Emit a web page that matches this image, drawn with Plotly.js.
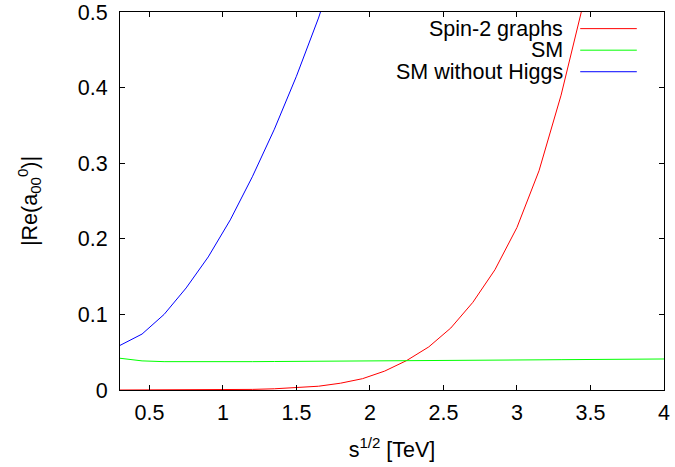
<!DOCTYPE html>
<html>
<head>
<meta charset="utf-8">
<script src="https://cdn.plot.ly/plotly-3.0.1.min.js"></script>
<style>html,body{margin:0;padding:0;background:#fff;}#chart{width:675px;height:467px;}</style>
</head>
<body>
<div id="chart"></div>
<script>
const seriesNames = ["Spin-2 graphs", "SM", "SM without Higgs"];
const seriesColors = ["#ff0000", "#00ff00", "#0000ff"];
const sqrtS = [0.3,0.45,0.6,0.75,0.9,1.05,1.2,1.35,1.5,1.65,1.8,1.95,2.1,2.25,2.4,2.55,2.7,2.85,3.0,3.15,3.3,3.45,3.6,3.75,3.9,4.05];
const spin2 = [0,0,0,0,0.0001,0.0003,0.0008,0.0016,0.003,0.005,0.009,0.015,0.025,0.039,0.057,0.082,0.116,0.159,0.215,0.29,0.39,0.51,0.66,0.85,1.08,1.36];
const sm = [0.042,0.0385,0.0375,0.0373,0.0373,0.0374,0.0375,0.0377,0.0378,0.0380,0.0381,0.0383,0.0385,0.0387,0.0389,0.0391,0.0393,0.0395,0.0397,0.0399,0.0401,0.0403,0.0405,0.0407,0.0409,0.0411];
const smNoHiggsX = [0.3,0.45,0.6,0.75,0.9,1.05,1.2,1.35,1.5,1.65,1.8];
const smNoHiggs = [0.059,0.074,0.100,0.135,0.176,0.225,0.282,0.345,0.415,0.492,0.58];
const xTicks = [0.5,1,1.5,2,2.5,3,3.5,4];
const xTickText = ["0.5","1","1.5","2","2.5","3","3.5","4"];
const yTicks = [0,0.1,0.2,0.3,0.4,0.5];
const yTickText = ["0","0.1","0.2","0.3","0.4","0.5"];

const xs = [sqrtS, sqrtS, smNoHiggsX];
const ys = [spin2, sm, smNoHiggs];
const traces = ys.map((y, i) => ({
  x: xs[i], y: y, type: "scatter", mode: "lines", name: seriesNames[i],
  line: {color: seriesColors[i], width: 1}, showlegend: false
}));

const font = {family: "Liberation Sans, Arial, sans-serif", size: 21.5, color: "#000"};
const legRowsY = [0.956, 0.899, 0.842];
const annotations = seriesNames.map((n, i) => ({
  text: n, xref: "paper", yref: "paper", x: 0.818, y: legRowsY[i],
  xanchor: "right", yanchor: "middle", showarrow: false,
  font: font
}));
const shapes = seriesNames.map((n, i) => ({
  type: "line", xref: "paper", yref: "paper", x0: 0.846, x1: 0.950,
  y0: legRowsY[i], y1: legRowsY[i], line: {color: seriesColors[i], width: 1}
}));

const axisCommon = {
  showline: true, linecolor: "#000", linewidth: 1, mirror: "ticks",
  ticks: "inside", ticklen: 5, tickcolor: "#000", tickwidth: 1,
  showgrid: false, zeroline: false, tickfont: font
};

const layout = {
  width: 675, height: 467,
  margin: {l: 120, r: 11, t: 12, b: 77},
  paper_bgcolor: "#fff", plot_bgcolor: "#fff",
  font: font,
  xaxis: Object.assign({}, axisCommon, {
    range: [0.3, 4], tickvals: xTicks, ticktext: xTickText, ticklabelstandoff: 3,
    title: {text: "s<sup>1/2</sup> [TeV]", font: font, standoff: 18}
  }),
  yaxis: Object.assign({}, axisCommon, {
    range: [0, 0.5], tickvals: yTicks, ticktext: yTickText, ticklabelstandoff: 7,
    title: {text: "|Re(a<sub>00</sub><sup>0</sup>)|", font: font, standoff: 34}
  }),
  annotations: annotations,
  shapes: shapes
};

Plotly.newPlot("chart", traces, layout, {staticPlot: true, displayModeBar: false});
</script>
</body>
</html>
